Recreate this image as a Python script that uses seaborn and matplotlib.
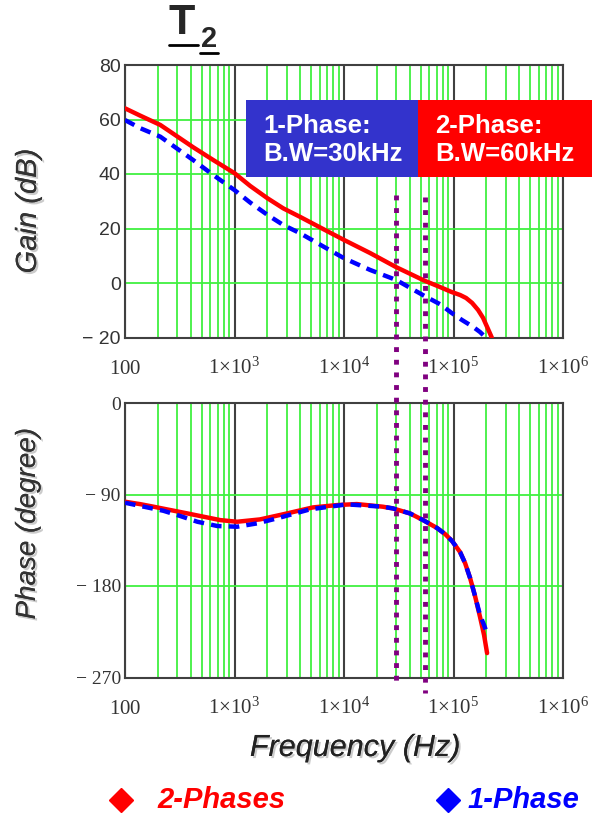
import numpy as np
import pandas as pd
import matplotlib
matplotlib.use('Agg')
import matplotlib.pyplot as plt
import seaborn as sns
import matplotlib.patheffects as pe
from matplotlib.patches import Rectangle
from matplotlib.lines import Line2D
from matplotlib.ticker import FixedLocator, LogLocator, FuncFormatter, NullFormatter

# Gain curves
freq_gain_2ph = [100, 138, 210, 420, 641, 1000, 1393, 2000, 2786, 4000, 6740, 10000, 17300,
                 30000, 54000, 75500, 96000, 114900, 130300, 147800, 167700, 186200, 202600, 223600]
gain_2ph = [64.1, 61.4, 58.0, 49.8, 45.1, 40.3, 35.6, 31.1, 27.4, 24.2, 19.4, 15.8, 11.0,
            5.8, 0.9, -1.5, -3.3, -4.4, -5.5, -7.3, -9.9, -12.8, -16.1, -20.0]
freq_gain_1ph = [100, 138, 210, 420, 641, 1000, 1393, 2000, 2786, 4000, 6740, 10000, 17300,
                 30000, 54000, 75500, 97000, 119800, 151000, 174800, 194600]
gain_1ph = [59.8, 56.8, 53.7, 45.1, 39.6, 34.1, 29.5, 25.0, 21.3, 18.2, 13.0, 9.1, 4.8,
            1.1, -4.7, -7.8, -11.1, -13.6, -16.1, -18.0, -19.8]

# Phase curves
freq_phase_2ph = [100, 138, 182, 371, 742, 1056, 1710, 3020, 5200, 8640, 13100, 22600, 28000,
                  40000, 52800, 70800, 83800, 97100, 114900, 127600, 141800, 157400, 174800,
                  190200, 202600]
phase_2ph = [-97.1, -99.5, -102.0, -108.6, -115.2, -116.8, -114.5, -108.6, -102.7, -100.4,
             -99.4, -102.0, -103.7, -108.6, -115.2, -123.0, -128.9, -135.8, -146.7, -157.5,
             -172.2, -190.0, -210.6, -228.3, -246.0]
freq_phase_1ph = [100, 147, 224, 320, 458, 697, 1056, 1610, 2440, 4900, 10600, 22600, 28000,
                  40000, 52800, 70800, 83800, 97100, 114900, 127600, 141800, 157400, 174800,
                  190200, 200400]
phase_1ph = [-98.1, -101.9, -106.0, -111.2, -116.8, -121.0, -121.7, -118.4, -113.5, -104.6,
             -99.7, -102.0, -103.7, -108.6, -115.2, -123.0, -128.9, -135.8, -146.7, -157.5,
             -172.2, -190.0, -208.7, -218.5, -225.4]

# Bandwidth markers (Hz) and how far the dotted lines run
bw_1ph = 30000
bw_2ph = 55000
bw_lines = [(bw_1ph, 32.3, -275.6), (bw_2ph, 31.6, -285.4)]

gain_ticks = [-20, 0, 20, 40, 60, 80]
gain_labels = ['\u2212 20', '0', '20', '40', '60', '80']
phase_ticks = [-270, -180, -90, 0]
phase_labels = ['\u2212 270', '\u2212 180', '\u2212 90', '0']
decades = [1e2, 1e3, 1e4, 1e5, 1e6]

RED = '#ff0000'
BLUE = '#0000ff'
BOX_BLUE = '#3333cc'
GREEN = '#40f040'
DARK = '#404040'
PURPLE = '#800080'

sns.set_style('white')
plt.rcParams['font.family'] = ['Liberation Sans', 'DejaVu Sans']
plt.rcParams['mathtext.fontset'] = 'custom'
plt.rcParams['mathtext.rm'] = 'Liberation Serif'
plt.rcParams['mathtext.it'] = 'Liberation Serif:italic'
plt.rcParams['mathtext.bf'] = 'Liberation Serif:bold'

W, H = 592, 818


def fx(px):
    return px / W


def fy(py):
    return 1 - py / H


def freq_label(v, pos):
    if v < 500:
        return r'$\mathrm{100}$'
    return r'$\mathrm{1{\times}10^{%d}}$' % round(np.log10(v))


fig = plt.figure(figsize=(W / 100, H / 100), dpi=100)
ax_gain = fig.add_axes([fx(125), fy(337.5), fx(563) - fx(125), fy(65) - fy(337.5)])
ax_phase = fig.add_axes([fx(125), fy(677.5), fx(563) - fx(125), fy(403) - fy(677.5)])

gain_2 = pd.DataFrame({'freq': freq_gain_2ph, 'val': gain_2ph})
gain_1 = pd.DataFrame({'freq': freq_gain_1ph, 'val': gain_1ph})
phase_2 = pd.DataFrame({'freq': freq_phase_2ph, 'val': phase_2ph})
phase_1 = pd.DataFrame({'freq': freq_phase_1ph, 'val': phase_1ph})

for ax, d2, d1, ticks, labels, lim, tfont in [
        (ax_gain, gain_2, gain_1, gain_ticks, gain_labels, (-20, 80), 'Liberation Sans'),
        (ax_phase, phase_2, phase_1, phase_ticks, phase_labels, (-270, 0), 'Liberation Serif')]:
    ax.set_xscale('log')
    sns.lineplot(data=d2, x='freq', y='val', ax=ax, color=RED, lw=3.2,
                 estimator=None, sort=False, zorder=3)
    sns.lineplot(data=d1, x='freq', y='val', ax=ax, color=BLUE, lw=3.2,
                 linestyle=(0, (2.4, 1.6)), estimator=None, sort=False, zorder=3)
    ax.set_xlim(1e2, 1e6)
    ax.set_ylim(*lim)
    ax.set_xlabel('')
    ax.set_ylabel('')

    ax.xaxis.set_major_locator(FixedLocator(decades))
    ax.xaxis.set_minor_locator(LogLocator(base=10, subs=np.arange(2, 10), numticks=20))
    ax.xaxis.set_major_formatter(FuncFormatter(freq_label))
    ax.xaxis.set_minor_formatter(NullFormatter())
    ax.set_yticks(ticks)
    ax.set_yticklabels(labels, fontfamily=tfont, fontsize=14, color='#333333')

    ax.tick_params(axis='both', which='both', length=0)
    ax.tick_params(axis='x', pad=26, labelsize=15, labelcolor='#333333')
    ax.tick_params(axis='y', pad=3)
    for t in ax.get_xticklabels():
        t.set_verticalalignment('baseline')

    ax.set_axisbelow(True)
    ax.xaxis.grid(True, which='minor', color=GREEN, lw=1.3)
    ax.xaxis.grid(True, which='major', color=DARK, lw=1.5)
    ax.yaxis.grid(True, which='major', color=GREEN, lw=1.3)
    for s in ax.spines.values():
        s.set_color(DARK)
        s.set_linewidth(1.5)

# purple dotted bandwidth markers spanning both plots
to_fig = fig.transFigure.inverted()
for bw, y_top, y_bot in bw_lines:
    top = to_fig.transform(ax_gain.transData.transform((bw, y_top)))
    bot = to_fig.transform(ax_phase.transData.transform((bw, y_bot)))
    fig.add_artist(Line2D([top[0], bot[0]], [top[1], bot[1]], color=PURPLE, lw=3.5,
                          linestyle=(0, (1, 1.6)), dash_capstyle='butt', zorder=4))

# bandwidth boxes
fig.add_artist(Rectangle((fx(246), fy(177)), fx(418) - fx(246), fy(100) - fy(177),
                         transform=fig.transFigure, facecolor=BOX_BLUE, edgecolor='none', zorder=5))
fig.add_artist(Rectangle((fx(418), fy(177)), fx(592) - fx(418), fy(100) - fy(177),
                         transform=fig.transFigure, facecolor=RED, edgecolor='none', zorder=5))
fig.text(fx(263), fy(140), '1-Phase:\nB.W=30kHz', color='white', fontsize=18.5,
         fontweight='bold', va='center', ha='left', linespacing=1.2, zorder=6)
fig.text(fx(435), fy(140), '2-Phase:\nB.W=60kHz', color='white', fontsize=18.5,
         fontweight='bold', va='center', ha='left', linespacing=1.2, zorder=6)

# title T2 with underline
fig.text(fx(182), fy(23), 'T', fontsize=31, fontweight='bold', ha='center', va='center')
fig.text(fx(209), fy(39), '2', fontsize=21, fontweight='bold', ha='center', va='center')
fig.add_artist(Line2D([fx(169), fx(198)], [fy(45), fy(45)], color='black', lw=2))
fig.add_artist(Line2D([fx(200), fx(218)], [fy(53), fy(53)], color='black', lw=2))

# axis titles
shadow = [pe.withSimplePatchShadow(offset=(1.5, -1.5), shadow_rgbFace='#999999', alpha=0.5), pe.Normal()]
fig.text(fx(28), fy(211), 'Gain (dB)', rotation=90, fontsize=21, style='italic',
         color='#333333', ha='center', va='center', path_effects=shadow)
fig.text(fx(28), fy(524), 'Phase (degree)', rotation=90, fontsize=20, style='italic',
         color='#333333', ha='center', va='center', path_effects=shadow)
fig.text(fx(355), fy(748), 'Frequency (Hz)', fontsize=22, style='italic',
         color='#222222', ha='center', va='center', path_effects=shadow)

# bottom legend
fig.add_artist(Line2D([fx(121)], [fy(800)], marker='D', ms=12, color=RED, lw=0))
fig.text(fx(157), fy(800), '2-Phases', color=RED, fontsize=21, fontweight='bold',
         style='italic', ha='left', va='center')
fig.add_artist(Line2D([fx(448)], [fy(800)], marker='D', ms=12, color=BLUE, lw=0))
fig.text(fx(468), fy(800), '1-Phase', color=BLUE, fontsize=21, fontweight='bold',
         style='italic', ha='left', va='center')

fig.savefig('out.png', dpi=100)
